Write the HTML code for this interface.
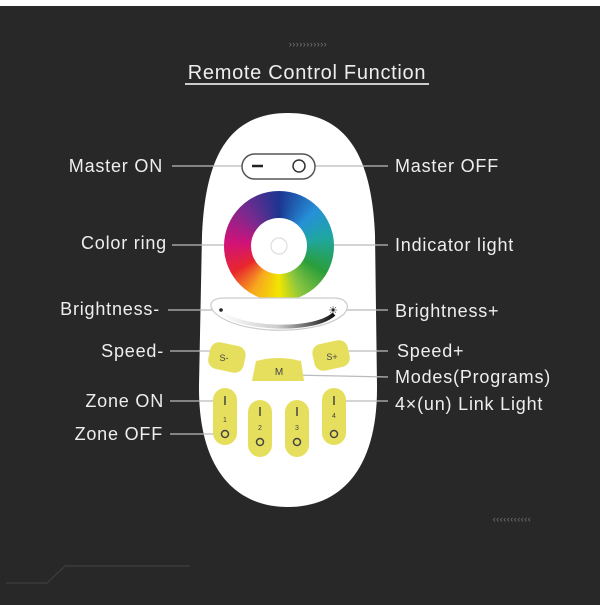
<!DOCTYPE html>
<html><head><style>
body{margin:0;width:600px;height:600px;overflow:hidden;background:#282828;font-family:"Liberation Sans",sans-serif}
</style></head><body>
<svg width="600" height="600" xmlns="http://www.w3.org/2000/svg">
<defs>
<linearGradient id="sl" x1="0" x2="1"><stop offset="0" stop-color="#fff"/><stop offset=".5" stop-color="#ccc"/><stop offset="1" stop-color="#111"/></linearGradient>
</defs>
<rect x="0" y="0" width="600" height="6" fill="#fff"/>
<text x="308" y="47" fill="#777" font-size="9" text-anchor="middle" letter-spacing="0.5">›››››››››››</text>
<text x="512" y="522" fill="#777" font-size="9" text-anchor="middle" letter-spacing="0.5">‹‹‹‹‹‹‹‹‹‹‹</text>
<text x="307" y="79" fill="#eee" font-size="20" text-anchor="middle" letter-spacing="0.7">Remote Control Function</text>
<line x1="185" y1="84" x2="429" y2="84" stroke="#ccc" stroke-width="2"/>
<polyline points="6,583 47,583 65,566 190,566" fill="none" stroke="#3a3a3a" stroke-width="1.5"/>
<path d="M288 113 C352 113 372 165 375 235 L377 385 C378 470 340 507 288 507 C236 507 198 470 199 385 L202 235 C205 165 224 113 288 113 Z" fill="#fff"/>
<g stroke="#bbb" stroke-width="1.2">
<line x1="172" y1="166" x2="250" y2="166"/><line x1="310" y1="166" x2="388" y2="166"/>
<line x1="172" y1="245" x2="232" y2="245"/><line x1="292" y1="245" x2="388" y2="245"/>
<line x1="168" y1="310" x2="220" y2="310"/><line x1="340" y1="310" x2="388" y2="310"/>
<line x1="170" y1="351" x2="215" y2="351"/><line x1="345" y1="351" x2="388" y2="351"/>
<line x1="292" y1="375" x2="388" y2="377"/>
<line x1="170" y1="401" x2="216" y2="401"/><line x1="340" y1="401" x2="388" y2="401"/>
<line x1="170" y1="434" x2="216" y2="434"/>
</g>
<rect x="242" y="154" width="73" height="25" rx="12.5" fill="#fff" stroke="#555" stroke-width="1.5"/>
<line x1="252" y1="166" x2="263" y2="166" stroke="#222" stroke-width="2.5"/>
<circle cx="299" cy="166" r="6" fill="none" stroke="#333" stroke-width="1.5"/>
<foreignObject x="224" y="191" width="110" height="110">
<div xmlns="http://www.w3.org/1999/xhtml" style="width:110px;height:110px;border-radius:50%;background:conic-gradient(from 0deg,#1c3590 0deg,#2590d8 45deg,#1fa6a0 80deg,#2a9e3a 120deg,#8cc63f 155deg,#f2e600 180deg,#f7a81e 210deg,#e8262e 240deg,#d0127a 275deg,#7a2a8f 315deg,#1c3590 360deg);"></div>
</foreignObject>
<circle cx="279" cy="246" r="28" fill="#fff"/>
<circle cx="279" cy="246" r="8" fill="none" stroke="#ddd" stroke-width="1.2"/>
<path d="M214 312 C206 302 215 298 224 298 L334 298 C344 298 352 304 344 314 C320 336 238 336 214 312 Z" fill="#fff" stroke="#ccc" stroke-width="1.2"/>
<path d="M221 313 C245 330 315 332 334 314" fill="none" stroke="url(#sl)" stroke-width="4"/>
<circle cx="221" cy="310" r="1.8" fill="#222"/>
<text x="333" y="314" fill="#222" font-size="11" text-anchor="middle">☀</text>
<g fill="#e6df5e">
<rect x="209" y="344" width="36" height="27" rx="9" transform="rotate(12 227 357)"/>
<rect x="313" y="342" width="36" height="27" rx="9" transform="rotate(-12 331 355)"/>
<path d="M256 361 Q278 355 301 361 L304 381 L252 381 Z"/>
<rect x="213" y="388" width="24" height="57" rx="12"/>
<rect x="248" y="400" width="24" height="57" rx="12"/>
<rect x="285" y="400" width="24" height="57" rx="12"/>
<rect x="322" y="388" width="24" height="57" rx="12"/>
</g>
<g fill="#444" font-size="9" text-anchor="middle">
<text x="224" y="361">S-</text><text x="332" y="360">S+</text><text x="279" y="375" font-size="10">M</text>
<text x="225" y="422" font-size="7">1</text><text x="260" y="430" font-size="7">2</text><text x="297" y="430" font-size="7">3</text><text x="334" y="418" font-size="7">4</text>
</g>
<g stroke="#444" stroke-width="1.5" fill="none">
<line x1="225" y1="396" x2="225" y2="405"/><line x1="260" y1="407" x2="260" y2="416"/><line x1="297" y1="407" x2="297" y2="416"/><line x1="334" y1="396" x2="334" y2="405"/>
<circle cx="225" cy="434" r="3.5"/><circle cx="260" cy="442" r="3.5"/><circle cx="297" cy="442" r="3.5"/><circle cx="334" cy="434" r="3.5"/>
</g>
<g fill="#eee" font-size="18" letter-spacing="0.8">
<text x="163" y="172" text-anchor="end">Master ON</text>
<text x="167" y="249" text-anchor="end">Color ring</text>
<text x="160" y="315" text-anchor="end">Brightness-</text>
<text x="164" y="357" text-anchor="end">Speed-</text>
<text x="164" y="407" text-anchor="end">Zone ON</text>
<text x="163" y="440" text-anchor="end">Zone OFF</text>
<text x="395" y="172">Master OFF</text>
<text x="395" y="251">Indicator light</text>
<text x="395" y="317">Brightness+</text>
<text x="397" y="357">Speed+</text>
<text x="395" y="383">Modes(Programs)</text>
<text x="395" y="410">4×(un) Link Light</text>
</g>
</svg>
</body></html>
